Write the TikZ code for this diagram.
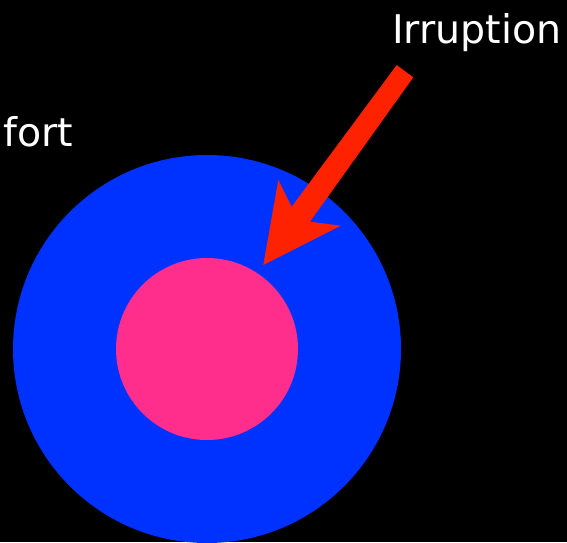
\documentclass[tikz,border=0pt]{standalone}
\usepackage{fontspec}
\setmainfont{DejaVu Sans}
\definecolor{bgblack}{RGB}{0,0,0}
\definecolor{outerblue}{RGB}{0,50,255}
\definecolor{innerpink}{RGB}{255,45,140}
\definecolor{arrowred}{RGB}{255,34,0}
\begin{document}
\begin{tikzpicture}[x=1pt,y=-1pt,
  label/.style={text=white,font=\fontsize{39.5}{42}\selectfont,inner sep=0pt}]
\useasboundingbox (0,0) rectangle (567,542);
\clip (0,0) rectangle (567,542);
\fill[bgblack] (0,0) rectangle (567,542);
\fill[outerblue] (207,349) circle[radius=194];
\fill[innerpink] (207,349) circle[radius=91];
\fill[arrowred] (396.7,65) -- (291.7,206.7) -- (278.3,180) -- (263.3,265)
  -- (340.7,225.7) -- (310,221.7) -- (413.3,77.3) -- cycle;
\node[label,anchor=base west] (irr) at (392,43) {Irruption};
\node[label,anchor=base west] (conf) at (3,146) {fort};
\end{tikzpicture}
\end{document}
